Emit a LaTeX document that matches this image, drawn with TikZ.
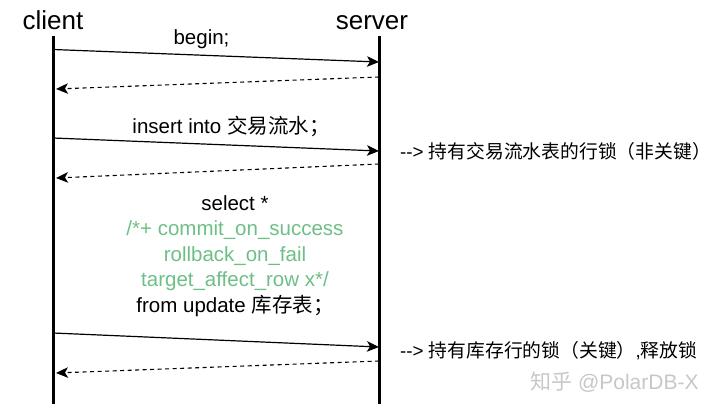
\documentclass[tikz,border=0pt]{standalone}
\usepackage{fontspec}
\setmainfont{Liberation Sans}
\newfontfamily\cjk{Noto Sans CJK SC}
\usetikzlibrary{positioning, arrows.meta}
\definecolor{hintgreen}{HTML}{6DBF86}

\begin{document}
\begin{tikzpicture}[x=1pt, y=-1pt,
  party/.style={font=\fontsize{26}{28}\selectfont, anchor=base, inner sep=0pt},
  msg/.style={font=\fontsize{20.5}{25.5}\selectfont, align=center, inner sep=0pt},
  note/.style={font=\fontsize{18.8}{21}\selectfont, anchor=base west, inner sep=0pt},
  life/.style={line width=3pt},
  call/.style={-{Stealth[length=12pt,width=10.5pt,inset=3pt]}, line width=1.2pt},
  back/.style={-{Stealth[length=12pt,width=10.5pt,inset=3pt]}, line width=1.1pt,
               dash pattern=on 4pt off 3.5pt}
]
\useasboundingbox (0,0) rectangle (720,412);
\node[party] (client) at (53,30) {client};
\node[party] (server) at (372,30) {server};
\coordinate (c0) at (53,36);
\coordinate (c9) at (53,404);
\coordinate (s0) at (379,36);
\coordinate (s9) at (379,404);
\draw[life] (c0) -- (c9);
\draw[life] (s0) -- (s9);
\foreach \i/\a/\b in {1/49.5/62, 2/138/151, 3/333/347}{
  \coordinate (c\i) at (53,\a);
  \coordinate (s\i) at (379,\b);
  \draw[call] (c\i) -- (s\i);}
\foreach \i/\a/\b in {1/77/89, 2/164/178, 3/361/373}{
  \coordinate (r\i) at (379,\a);
  \coordinate (l\i) at (56,\b);
  \draw[back] (r\i) -- (l\i);}
\node[msg, anchor=base] (begin) at (201.5,45) {begin;};
\node[msg, anchor=base] (insert) at (231,133) {insert into {\cjk 交易流水；}};
\node[msg, anchor=north] (select) at (235,195)
  {select *\\
   \textcolor{hintgreen}{/*+ commit\_on\_success}\\
   \textcolor{hintgreen}{rollback\_on\_fail}\\
   \textcolor{hintgreen}{target\_affect\_row x*/}\\
   from update {\cjk 库存表；}};
\node[note] (rowlock) at (400,158)
  {-\kern0pt-\kern0pt> {\cjk 持有交易流水表的行锁（非关键）}};
\node[note] (stocklock) at (400,357)
  {-\kern0pt-\kern0pt> {\cjk 持有库存行的锁（关键）},{\cjk 释放锁}};
\node[note, text=black!22, font=\fontsize{21}{23}\selectfont] (mark) at (530,389)
  {{\cjk 知乎} @PolarDB-X};
\end{tikzpicture}
\end{document}
